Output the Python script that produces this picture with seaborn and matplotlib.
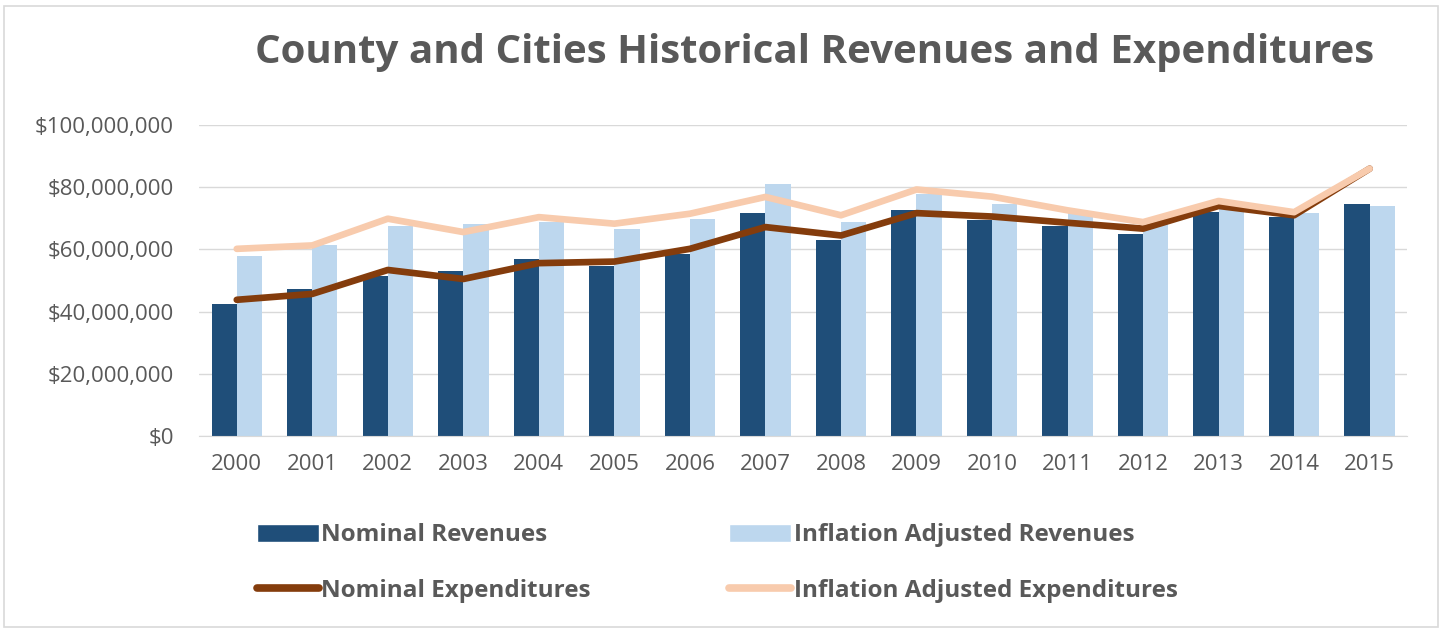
import numpy as np
import pandas as pd
import matplotlib.pyplot as plt
import seaborn as sns
from matplotlib.lines import Line2D
from matplotlib.patches import Patch, Rectangle
from matplotlib.ticker import FuncFormatter

# Data (values in millions of dollars)
years = [str(y) for y in range(2000, 2016)]
nominal_rev = [42.6, 47.3, 51.6, 53.2, 57.0, 54.8, 58.6, 71.7,
               63.1, 72.8, 69.6, 67.4, 65.0, 72.0, 70.4, 74.5]
adjusted_rev = [58.0, 61.3, 67.7, 68.3, 68.8, 66.7, 69.9, 81.0,
                68.8, 78.0, 74.7, 72.5, 69.0, 73.0, 71.6, 73.9]
nominal_exp = [43.8, 45.7, 53.4, 50.5, 55.6, 56.1, 60.2, 67.2,
               64.5, 71.7, 70.6, 68.6, 66.7, 74.0, 71.0, 86.0]
adjusted_exp = [60.2, 61.3, 69.9, 65.6, 70.4, 68.3, 71.5, 76.9,
                71.0, 79.3, 77.0, 72.6, 68.8, 75.6, 72.0, 86.0]

rev_names = ["Nominal Revenues", "Inflation Adjusted Revenues"]
exp_names = ["Nominal Expenditures", "Inflation Adjusted Expenditures"]
colors = {"Nominal Revenues": "#1F4E79", "Inflation Adjusted Revenues": "#BDD7EE",
          "Nominal Expenditures": "#843C0C", "Inflation Adjusted Expenditures": "#F8CBAD"}

n = len(years)
rev = pd.DataFrame({"Year": years * 2,
                    "Series": [rev_names[0]] * n + [rev_names[1]] * n,
                    "Value": np.array(nominal_rev + adjusted_rev) * 1e6})
exp = pd.DataFrame({"pos": list(range(n)) * 2,
                    "Series": [exp_names[0]] * n + [exp_names[1]] * n,
                    "Value": np.array(nominal_exp + adjusted_exp) * 1e6})

sns.set_style("white")
plt.rcParams['font.family'] = ['Open Sans', 'DejaVu Sans']
text_gray = "#595959"

fig = plt.figure(figsize=(14.42, 6.29), dpi=100)
ax = fig.add_axes([0.138, 0.307, 0.838, 0.494])

sns.barplot(data=rev, x="Year", y="Value", hue="Series", palette=colors,
            width=0.667, gap=0, saturation=1, ax=ax, legend=False, edgecolor="none")
sns.lineplot(data=exp, x="pos", y="Value", hue="Series", palette=colors,
             linewidth=4.8, ax=ax, legend=False, solid_capstyle="round")

ax.set_xlim(-0.5, n - 0.5)
ax.set_ylim(0, 100e6)
ax.set_yticks(np.arange(0, 100e6 + 1, 20e6))
ax.yaxis.set_major_formatter(FuncFormatter(lambda v, p: f"${v:,.0f}"))
ax.set_xticks(range(n))
ax.set_xticklabels(years)
ax.grid(axis="y", color="#d9d9d9", linewidth=1)
ax.set_axisbelow(True)
for s in ["top", "right", "left"]:
    ax.spines[s].set_visible(False)
ax.spines["bottom"].set_color("#d9d9d9")
ax.tick_params(axis="both", length=0, labelsize=16, labelcolor=text_gray)
ax.tick_params(axis="x", pad=13)
ax.tick_params(axis="y", pad=18)
ax.set_xlabel("")
ax.set_ylabel("")

fig.text(0.565, 0.917, "County and Cities Historical Revenues and Expenditures",
         ha="center", va="center", fontsize=29, fontweight="bold", color=text_gray)

# legend laid out row by row: revenues on top, expenditures below
handles = [Patch(facecolor=colors[rev_names[0]]),
           Line2D([], [], color=colors[exp_names[0]], lw=5.5, solid_capstyle="round"),
           Patch(facecolor=colors[rev_names[1]]),
           Line2D([], [], color=colors[exp_names[1]], lw=5.5, solid_capstyle="round")]
labels = [rev_names[0], exp_names[0], rev_names[1], exp_names[1]]
leg = fig.legend(handles, labels, ncol=2, loc="upper left", bbox_to_anchor=(0.163, 0.203),
                 frameon=False, handlelength=2.55, handleheight=0.75, handletextpad=0.1,
                 columnspacing=5.7, labelspacing=1.3,
                 prop={"size": 17.5, "weight": "bold"})
for t in leg.get_texts():
    t.set_color(text_gray)

fig.patches.append(Rectangle((0.003, 0.003), 0.994, 0.988, transform=fig.transFigure,
                             fill=False, edgecolor="#d9d9d9", linewidth=1.2))

fig.savefig("out.png", dpi=100)
